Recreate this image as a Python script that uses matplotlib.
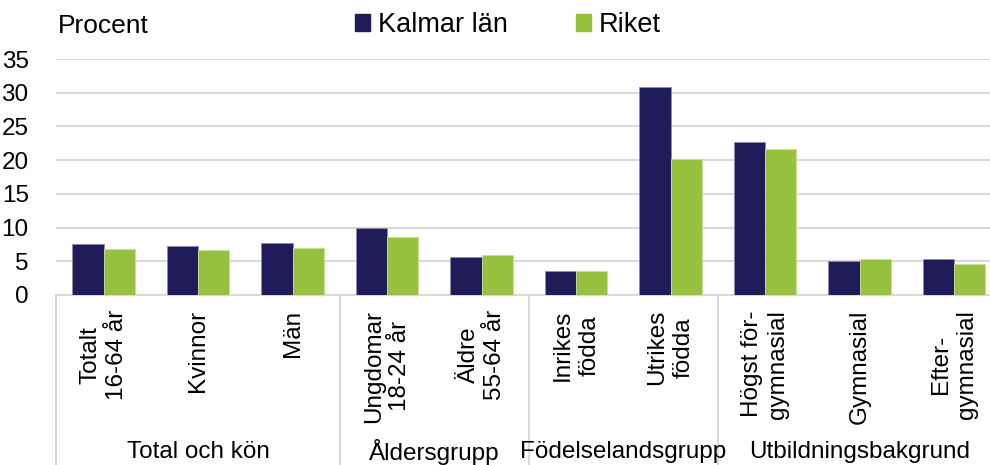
import numpy as np
import matplotlib
matplotlib.use("Agg")
from matplotlib import pyplot as plt
from matplotlib.lines import Line2D
from matplotlib.patches import Patch

plt.rcParams['font.family'] = ['Liberation Sans', 'DejaVu Sans']

categories = ["Totalt\n16-64 år", "Kvinnor", "Män", "Ungdomar\n18-24 år", "Äldre\n55-64 år",
              "Inrikes\nfödda", "Utrikes\nfödda", "Högst för-\ngymnasial", "Gymnasial", "Efter-\ngymnasial"]
kalmar = [7.5, 7.3, 7.7, 10.0, 5.6, 3.6, 30.9, 22.7, 5.0, 5.3]
riket = [6.8, 6.7, 7.0, 8.6, 5.9, 3.5, 20.1, 21.6, 5.3, 4.6]
groups = ["Total och kön", "Åldersgrupp", "Födelselandsgrupp", "Utbildningsbakgrund"]
group_sizes = [3, 2, 2, 3]

navy = "#201c5a"
green = "#96c13e"
grid_col = "#d9d9d9"

fig = plt.figure(figsize=(9.9, 4.65), dpi=100)
ax = fig.add_axes([0.057, 0.3656, 0.9545, 0.5075])

x = np.arange(len(categories))
w = 0.33
ax.bar(x - w / 2, kalmar, w, color=navy, edgecolor="#8e8ab0", linewidth=0.6, zorder=3)
ax.bar(x + w / 2, riket, w, color=green, edgecolor="#c8e09a", linewidth=0.6, zorder=3)

ax.set_xlim(-0.5, len(categories) - 0.5)
ax.set_ylim(0, 35)
ax.set_yticks(range(0, 36, 5))
ax.tick_params(axis='y', length=0, labelsize=17.5, pad=20)
ax.set_xticks([])
ax.yaxis.grid(True, color=grid_col, linewidth=1.5)
ax.set_axisbelow(True)
for s in ["top", "right", "left"]:
    ax.spines[s].set_visible(False)
ax.spines["bottom"].set_color(grid_col)
ax.spines["bottom"].set_linewidth(1.5)

trans = ax.get_xaxis_transform()
for i, lab in enumerate(categories):
    ax.text(i, -0.062, lab, rotation=90, ha='center', va='top', multialignment='center',
            fontsize=17.5, transform=trans, linespacing=1.25)

# group separators and labels
edges = np.concatenate([[0], np.cumsum(group_sizes)]) - 0.5
for e in edges:
    ax.add_line(Line2D([e, e], [0, -0.75], transform=trans, color=grid_col,
                       linewidth=1.5, clip_on=False))
for g, a, b in zip(groups, edges[:-1], edges[1:]):
    ax.text((a + b) / 2, -0.665, g, ha='center', va='center', fontsize=17.5, transform=trans)

fig.text(58 / 990, 1 - 26 / 465, "Procent", fontsize=19, va='center', ha='left')

handles = [Patch(color=navy), Patch(color=green)]
fig.legend(handles, ["Kalmar län", "Riket"], loc='center left', bbox_to_anchor=(355 / 990, 1 - 25 / 465),
           ncol=2, frameon=False, fontsize=19.5, handlelength=0.55, handleheight=0.55,
           handletextpad=0.3, columnspacing=2.5, borderpad=0, borderaxespad=0)

fig.savefig("out.png", dpi=100)
plt.close()
